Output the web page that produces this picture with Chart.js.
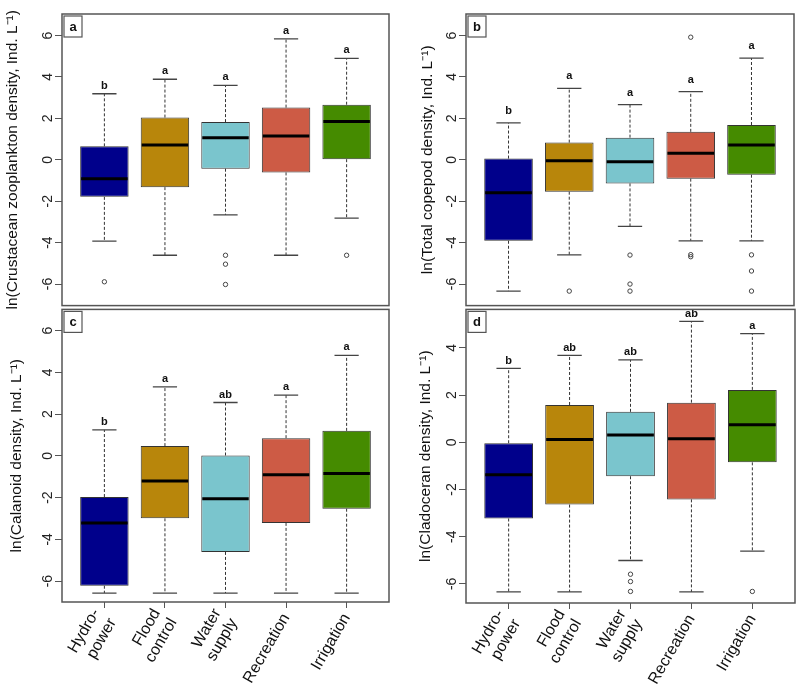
<!DOCTYPE html>
<html>
<head>
<meta charset="utf-8">
<script src="https://cdn.jsdelivr.net/npm/chart.js@4.4.1/dist/chart.umd.min.js"></script>
<style>
  body { margin: 0; background: #fff; }
  #wrap { position: relative; width: 800px; height: 690px; overflow: hidden; }
  canvas { position: absolute; }
</style>
</head>
<body>
<div id="wrap">
  <canvas id="chartA" width="400" height="315" style="left:0;top:0"></canvas>
  <canvas id="chartB" width="400" height="315" style="left:400px;top:0"></canvas>
  <canvas id="chartC" width="400" height="390" style="left:0;top:300px"></canvas>
  <canvas id="chartD" width="400" height="390" style="left:400px;top:300px"></canvas>
</div>
<script>
// reservoir uses (x categories)
const categories = [['Hydro-', 'power'], ['Flood', 'control'], ['Water', 'supply'], 'Recreation', 'Irrigation'];
const boxColors = ['#00008B', '#B8860B', '#7AC5CD', '#CD5B45', '#458B00'];

const ticksFull = [-6, -4, -2, 0, 2, 4, 6];
const ticksShort = [-6, -4, -2, 0, 2, 4];

// a: crustacean zooplankton
const crustLow = [-3.93, -4.61, -2.66, -4.61, -2.82];
const crustQ1 = [-1.79, -1.32, -0.43, -0.61, 0.03];
const crustMedian = [-0.91, 0.72, 1.07, 1.15, 1.85];
const crustQ3 = [0.65, 2.04, 1.82, 2.52, 2.66];
const crustHigh = [3.19, 3.89, 3.59, 5.84, 4.90];
const crustOutliers = [[-5.89], [], [-4.61, -5.04, -6.02], [], [-4.61]];
const crustLetters = ['b', 'a', 'a', 'a', 'a'];

// b: total copepod
const copeLow = [-6.34, -4.59, -3.21, -3.91, -3.91];
const copeQ1 = [-3.91, -1.54, -1.14, -0.91, -0.72];
const copeMedian = [-1.59, -0.05, -0.10, 0.32, 0.71];
const copeQ3 = [0.06, 0.83, 1.07, 1.35, 1.68];
const copeHigh = [1.78, 3.45, 2.66, 3.29, 4.91];
const copeOutliers = [[], [-6.34], [-4.60, -6.00, -6.34], [5.92, -4.58, -4.68], [-4.59, -5.37, -6.34]];
const copeLetters = ['b', 'a', 'a', 'a', 'a'];

// c: calanoid
const calLow = [-6.57, -6.57, -6.57, -6.57, -6.57];
const calQ1 = [-6.22, -2.99, -4.60, -3.21, -2.53];
const calMedian = [-3.21, -1.20, -2.05, -0.90, -0.84];
const calQ3 = [-1.97, 0.47, 0.02, 0.85, 1.20];
const calHigh = [1.25, 3.31, 2.56, 2.91, 4.82];
const calOutliers = [[], [], [], [], []];
const calLetters = ['b', 'a', 'ab', 'a', 'a'];

// d: cladoceran
const cladLow = [-6.34, -6.34, -5.01, -6.34, -4.61];
const cladQ1 = [-3.23, -2.64, -1.44, -2.42, -0.85];
const cladMedian = [-1.38, 0.12, 0.31, 0.15, 0.74];
const cladQ3 = [-0.04, 1.58, 1.29, 1.68, 2.22];
const cladHigh = [3.13, 3.68, 3.49, 5.12, 4.60];
const cladOutliers = [[], [], [-5.59, -5.90, -6.32], [], [-6.32]];
const cladLetters = ['b', 'ab', 'ab', 'ab', 'a'];

Chart.defaults.font.family = '"Liberation Sans", Arial, Helvetica, sans-serif';
Chart.defaults.color = '#111';

// whiskers, caps, medians, letters, x labels and the panel frame
const boxExtras = {
  id: 'boxExtras',
  afterDatasetsDraw(chart, args, opts) {
    const { ctx, chartArea, scales: { x, y } } = chart;
    const bars = chart.getDatasetMeta(0).data;
    ctx.save();
    opts.low.forEach((lo, i) => {
      const cx = x.getPixelForValue(i + 1);
      const w = bars[i].width;
      const yLo = y.getPixelForValue(lo);
      const yHi = y.getPixelForValue(opts.high[i]);
      const yQ1 = y.getPixelForValue(opts.q1[i]);
      const yQ3 = y.getPixelForValue(opts.q3[i]);
      const yMed = y.getPixelForValue(opts.median[i]);

      ctx.strokeStyle = '#333';
      ctx.lineWidth = 1;
      ctx.setLineDash([3, 2]);
      ctx.beginPath();
      ctx.moveTo(cx, yQ3); ctx.lineTo(cx, yHi);
      ctx.moveTo(cx, yQ1); ctx.lineTo(cx, yLo);
      ctx.stroke();

      ctx.setLineDash([]);
      ctx.strokeStyle = '#444';
      ctx.lineWidth = 1.3;
      ctx.beginPath();
      ctx.moveTo(cx - w / 4, yHi); ctx.lineTo(cx + w / 4, yHi);
      ctx.moveTo(cx - w / 4, yLo); ctx.lineTo(cx + w / 4, yLo);
      ctx.stroke();

      ctx.strokeStyle = '#000';
      ctx.lineWidth = 3;
      ctx.beginPath();
      ctx.moveTo(cx - w / 2 + 1, yMed); ctx.lineTo(cx + w / 2 - 1, yMed);
      ctx.stroke();

      ctx.fillStyle = '#111';
      ctx.font = 'bold 11px "Liberation Sans", Arial, sans-serif';
      ctx.textAlign = 'center';
      ctx.textBaseline = 'middle';
      ctx.fillText(opts.letters[i], cx, yHi - opts.letterGap);
    });

    // rotated category labels, each block centred on its tick
    if (opts.showLabels) {
      ctx.fillStyle = '#111';
      ctx.font = '16px "Liberation Sans", Arial, sans-serif';
      ctx.textAlign = 'right';
      ctx.textBaseline = 'middle';
      categories.forEach((label, i) => {
        const lines = [].concat(label);
        ctx.save();
        ctx.translate(x.getPixelForValue(i + 1), chartArea.bottom + 13);
        ctx.rotate(-Math.PI / 3);
        lines.forEach((line, k) => ctx.fillText(line, 0, (k - (lines.length - 1) / 2) * 19));
        ctx.restore();
      });
    }

    // frame
    ctx.strokeStyle = '#555';
    ctx.lineWidth = 1.5;
    ctx.strokeRect(chartArea.left, chartArea.top, chartArea.right - chartArea.left, chartArea.bottom - chartArea.top);

    // panel tag
    ctx.lineWidth = 1.2;
    ctx.fillStyle = '#fff';
    ctx.fillRect(chartArea.left + 2, chartArea.top + 2, 18, 21);
    ctx.strokeRect(chartArea.left + 2, chartArea.top + 2, 18, 21);
    ctx.fillStyle = '#111';
    ctx.font = 'bold 13px "Liberation Sans", Arial, sans-serif';
    ctx.textAlign = 'center';
    ctx.textBaseline = 'middle';
    ctx.fillText(opts.tag, chartArea.left + 11, chartArea.top + 13);
    ctx.restore();
  }
};

function setCategoryTicks(axis) {
  axis.ticks = categories.map((c, i) => ({ value: i + 1 }));
}

function makePanel(canvasId, p) {
  const boxData = p.q1.map((q, i) => ({ x: i + 1, y: [q, p.q3[i]] }));
  const outlierData = [];
  p.outliers.forEach((list, i) => list.forEach(v => outlierData.push({ x: i + 1, y: v })));

  const xAxis = {
    type: 'linear',
    min: 0.3,
    max: 5.7,
    offset: false,
    afterBuildTicks: setCategoryTicks,
    display: p.showX,
    grid: { display: true, offset: false, drawOnChartArea: false, drawTicks: true, tickLength: 6, color: '#555' },
    border: { display: false },
    ticks: { display: false },
    afterFit: axis => { axis.height = p.xHeight; }
  };

  new Chart(document.getElementById(canvasId), {
    type: 'bar',
    data: {
      datasets: [
        {
          type: 'bar',
          data: boxData,
          backgroundColor: boxColors,
          borderColor: '#333',
          borderWidth: 1,
          borderSkipped: false,
          categoryPercentage: 1,
          barPercentage: 0.8
        },
        {
          type: 'scatter',
          data: outlierData,
          pointStyle: 'circle',
          pointRadius: 2.2,
          pointBackgroundColor: 'rgba(0,0,0,0)',
          pointBorderColor: '#444',
          pointBorderWidth: 1
        }
      ]
    },
    options: {
      responsive: false,
      animation: false,
      layout: { padding: p.padding },
      plugins: {
        legend: { display: false },
        tooltip: { enabled: false },
        boxExtras: {
          low: p.low, q1: p.q1, median: p.median, q3: p.q3, high: p.high,
          letters: p.letters, letterGap: p.letterGap, tag: p.tag, showLabels: p.showX
        }
      },
      scales: {
        x: xAxis,
        y: {
          type: 'linear',
          min: p.yMin,
          max: p.yMax,
          afterBuildTicks: axis => { axis.ticks = p.ticks.map(v => ({ value: v })); },
          grid: { display: true, drawOnChartArea: false, drawTicks: true, tickLength: 7, color: '#555' },
          border: { display: false },
          ticks: { minRotation: 90, maxRotation: 90, crossAlign: 'center', padding: 1, color: '#222', font: { size: 14 } },
          title: { display: true, text: p.title, color: '#111', font: { size: 15.5 }, padding: { top: p.titlePad, bottom: 0 } },
          afterFit: axis => { axis.width = p.yWidth; }
        }
      }
    },
    plugins: [boxExtras]
  });
}

makePanel('chartA', {
  tag: 'a', title: 'ln(Crustacean zooplankton density, Ind. L\u207B\u00B9)',
  low: crustLow, q1: crustQ1, median: crustMedian, q3: crustQ3, high: crustHigh,
  outliers: crustOutliers, letters: crustLetters, ticks: ticksFull,
  yMin: -7.04, yMax: 7.04, showX: false, xHeight: 0, yWidth: 62, titlePad: 3, letterGap: 8,
  padding: { top: 14, right: 11, bottom: 7, left: 0 }
});

makePanel('chartB', {
  tag: 'b', title: 'ln(Total copepod density, Ind. L\u207B\u00B9)',
  low: copeLow, q1: copeQ1, median: copeMedian, q3: copeQ3, high: copeHigh,
  outliers: copeOutliers, letters: copeLetters, ticks: ticksFull,
  yMin: -7.04, yMax: 7.04, showX: false, xHeight: 0, yWidth: 66, titlePad: 18, letterGap: 12,
  padding: { top: 14, right: 6, bottom: 7, left: 0 }
});

makePanel('chartC', {
  tag: 'c', title: 'ln(Calanoid density, Ind. L\u207B\u00B9)',
  low: calLow, q1: calQ1, median: calMedian, q3: calQ3, high: calHigh,
  outliers: calOutliers, letters: calLetters, ticks: ticksFull,
  yMin: -7.0, yMax: 7.02, showX: true, xHeight: 88, yWidth: 62, titlePad: 7, letterGap: 8,
  padding: { top: 8, right: 11, bottom: 0, left: 0 }
});

makePanel('chartD', {
  tag: 'd', title: 'ln(Cladoceran density, Ind. L\u207B\u00B9)',
  low: cladLow, q1: cladQ1, median: cladMedian, q3: cladQ3, high: cladHigh,
  outliers: cladOutliers, letters: cladLetters, ticks: ticksShort,
  yMin: -6.81, yMax: 5.63, showX: true, xHeight: 87, yWidth: 66, titlePad: 16, letterGap: 7.5,
  padding: { top: 9, right: 5, bottom: 0, left: 0 }
});
</script>
</body>
</html>
